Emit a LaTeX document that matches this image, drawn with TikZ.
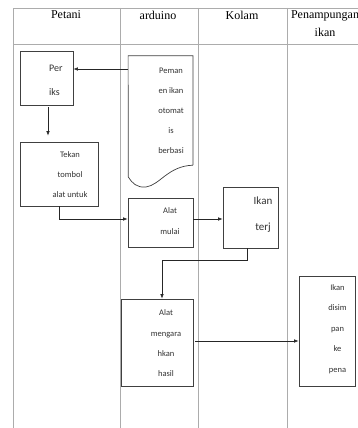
\documentclass[tikz,border=0pt]{standalone}
\usepackage{fontspec}
\setmainfont{Carlito}
\newfontfamily\headfont{Liberation Serif}
\usetikzlibrary{arrows.meta}
\begin{document}
\begin{tikzpicture}[x=1pt,y=-1pt,
  lane/.style={draw=gray!65, line width=0.9pt},
  box/.style={draw=black!75, line width=0.7pt, inner sep=0pt},
  lbl/.style={font=\fontsize{8.5}{20}\selectfont, align=center, text=black!80, inner sep=0pt},
  head/.style={font=\headfont\fontsize{12}{18}\selectfont, align=center, inner sep=0pt},
  arr/.style={-{Latex[length=4.5pt,width=3.5pt]}, line width=0.6pt, draw=black!85}]
\clip (0,0) rectangle (358,428);
\fill[white] (0,0) rectangle (358,428);
% swimlane frame
\draw[lane] (13,432) -- (13,8) -- (370,8);
\draw[lane] (13,44) -- (370,44);
\draw[lane] (120,8) -- (120,432);
\draw[lane] (198,8) -- (198,432);
\draw[lane] (287,8) -- (287,432);
% headers
\node[head] (hpetani) at (66,15) {Petani};
\node[head] (harduino) at (158,15) {arduino};
\node[head] (hkolam) at (242,15) {Kolam};
\node[head] (hpenam) at (325,24) {Penampungan\\ikan};
% boxes
\node[box, minimum width=53pt, minimum height=54pt] (per) at (46.5,78) {};
\node[box, minimum width=78pt, minimum height=64pt] (tekan) at (59,174) {};
\node[box, minimum width=65pt, minimum height=49pt] (mulai) at (160.5,222.5) {};
\node[box, minimum width=55pt, minimum height=61pt] (terj) at (250.5,217.5) {};
\node[box, minimum width=72pt, minimum height=87pt] (mengarah) at (157,342.5) {};
\node[box, minimum width=56pt, minimum height=110pt] (disim) at (327,331) {};
% document shape
\node[inner sep=0pt, minimum width=64.4pt, minimum height=109pt] (doc) at (160.5,110.5) {};
\draw[draw=black!75, line width=0.7pt]
  (doc.south east) -- (doc.north east) -- (doc.north west) -- (128.3,177)
  .. controls (132,183) and (137,188) .. (146,187)
  .. controls (160,185) and (168,166) .. (doc.south east);
% texts
\node[lbl, font=\fontsize{10}{24}\selectfont, align=left, anchor=west] (tper) at (49,80) {Per\\iks};
\node[lbl] (tdoc) at (171,111) {Peman\\en ikan\\otomat\\is\\berbasi};
\node[lbl] (ttekan) at (70,175) {Tekan\\tombol\\alat untuk};
\node[lbl, font=\fontsize{8.5}{21}\selectfont] (tmulai) at (170,221.5) {Alat\\mulai};
\node[lbl, font=\fontsize{11}{26}\selectfont] (tterj) at (263,215) {Ikan\\terj};
\node[lbl, font=\fontsize{8.5}{20.3}\selectfont] (tmeng) at (166,343.5) {Alat\\mengara\\hkan\\hasil};
\node[lbl, font=\fontsize{8.5}{20.5}\selectfont] (tdisim) at (337.5,329) {Ikan\\disim\\pan\\ke\\pena};
% connectors
\draw[arr] ([yshift=41.5pt]doc.west) -- ([yshift=41.5pt]doc.west -| per.east);
\draw[arr, shorten <=2pt, shorten >=6pt] ([xshift=1.5pt]per.south) -- ([xshift=1.5pt]per.south |- tekan.north);
\draw[arr] (tekan.south) |- ([yshift=3.5pt]mulai.west);
\draw[arr] ([yshift=3.5pt]mulai.east) -- ([yshift=3.5pt]mulai.east -| terj.west);
\draw[arr] ([xshift=-3.5pt]terj.south) -- ++(0,12) -| ([xshift=5pt]mengarah.north);
\draw[arr] ([xshift=2pt,yshift=1.5pt]mengarah.east) -- ([yshift=1.5pt]mengarah.east -| disim.west);
\end{tikzpicture}
\end{document}
